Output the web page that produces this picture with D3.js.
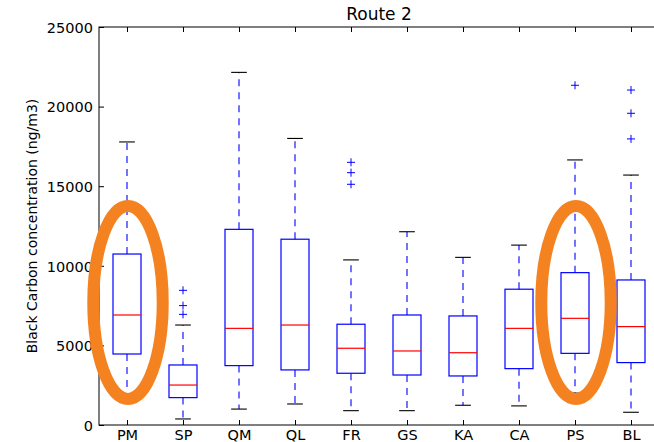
<!DOCTYPE html>
<html>
<head>
<meta charset="utf-8">
<script src="https://cdn.jsdelivr.net/npm/d3@7"></script>
<style>
  body { margin: 0; background: #fff; }
  text { font-family: "DejaVu Sans", sans-serif; fill: #000; }
</style>
</head>
<body>
<div id="chart"></div>
<script>
// box stats (ng/m3)
var categories = ["PM", "SP", "QM", "QL", "FR", "GS", "KA", "CA", "PS", "BL"];
var whiskerLow  = [1900, 380, 1000, 1320, 900, 900, 1240, 1200, 2000, 800];
var q1          = [4460, 1720, 3730, 3460, 3250, 3140, 3080, 3540, 4500, 3920];
var medians     = [6910, 2510, 6070, 6280, 4820, 4650, 4540, 6070, 6700, 6180];
var q3          = [10740, 3770, 12290, 11670, 6330, 6910, 6850, 8530, 9570, 9110];
var whiskerHigh = [17780, 6280, 22150, 18000, 10370, 12140, 10530, 11300, 16650, 15700];
var outliers    = [[], [8460, 7500, 6950], [], [], [16500, 15850, 15120], [], [], [], [21340], [21040, 19580, 17970]];
var yTicks = [0, 5000, 10000, 15000, 20000, 25000];
// orange rings drawn over the chart
var highlighted = ["PM", "PS"];
var highlightCenter = 7700;
var highlightHalfSpan = 6060;

var width = 654, height = 442;
var margin = {top: 27, right: -5, bottom: 17, left: 99};

var svg = d3.select("#chart").append("svg").attr("width", width).attr("height", height);

var x = d3.scaleLinear().domain([0.5, categories.length + 0.5]).range([margin.left, width - margin.right]);
var y = d3.scaleLinear().domain([0, 25000]).range([height - margin.bottom, margin.top]);

var boxHalf = 0.25, capHalf = 0.14;

var data = categories.map(function(c, i) {
  return {name: c, pos: i + 1, lo: whiskerLow[i], q1: q1[i], med: medians[i], q3: q3[i], hi: whiskerHigh[i], out: outliers[i]};
});

var g = svg.append("g");

var boxes = g.selectAll("g.box").data(data).enter().append("g").attr("class", "box");

// whiskers
boxes.append("line")
  .attr("x1", function(d) { return x(d.pos); }).attr("x2", function(d) { return x(d.pos); })
  .attr("y1", function(d) { return y(d.q3); }).attr("y2", function(d) { return y(d.hi); })
  .attr("stroke", "#0000ff").attr("stroke-dasharray", "7,6").attr("stroke-width", 1.1);
boxes.append("line")
  .attr("x1", function(d) { return x(d.pos); }).attr("x2", function(d) { return x(d.pos); })
  .attr("y1", function(d) { return y(d.q1); }).attr("y2", function(d) { return y(d.lo); })
  .attr("stroke", "#0000ff").attr("stroke-dasharray", "7,6").attr("stroke-width", 1.1);

// caps
["hi", "lo"].forEach(function(k) {
  boxes.append("line")
    .attr("x1", function(d) { return x(d.pos - capHalf); }).attr("x2", function(d) { return x(d.pos + capHalf); })
    .attr("y1", function(d) { return y(d[k]); }).attr("y2", function(d) { return y(d[k]); })
    .attr("stroke", "#000").attr("stroke-width", 1.1);
});

// box
boxes.append("rect")
  .attr("x", function(d) { return x(d.pos - boxHalf); })
  .attr("width", function(d) { return x(d.pos + boxHalf) - x(d.pos - boxHalf); })
  .attr("y", function(d) { return y(d.q3); })
  .attr("height", function(d) { return y(d.q1) - y(d.q3); })
  .attr("fill", "none").attr("stroke", "#0000ff").attr("stroke-width", 1.2);

// median
boxes.append("line")
  .attr("x1", function(d) { return x(d.pos - boxHalf); }).attr("x2", function(d) { return x(d.pos + boxHalf); })
  .attr("y1", function(d) { return y(d.med); }).attr("y2", function(d) { return y(d.med); })
  .attr("stroke", "#ff0000").attr("stroke-width", 1.2);

// fliers
boxes.each(function(d) {
  d3.select(this).selectAll("path.flier").data(d.out).enter().append("path")
    .attr("class", "flier")
    .attr("d", function(v) {
      var cx = x(d.pos), cy = y(v);
      return "M" + (cx - 4) + "," + cy + "H" + (cx + 4) + "M" + cx + "," + (cy - 4) + "V" + (cy + 4);
    })
    .attr("stroke", "#0000ff").attr("stroke-width", 1);
});

// axes frame
var x0 = x(0.5), x1 = x(categories.length + 0.5), y0 = y(0), y1 = y(25000);
svg.append("rect").attr("x", x0).attr("y", y1).attr("width", x1 - x0).attr("height", y0 - y1)
  .attr("fill", "none").attr("stroke", "#000").attr("stroke-width", 1);

var tickLen = 5;
var yAxis = d3.axisLeft(y).tickValues(yTicks).tickFormat(d3.format("d"))
  .tickSizeInner(-tickLen).tickSizeOuter(0).tickPadding(6);
var yG = svg.append("g").attr("transform", "translate(" + x0 + ",0)").call(yAxis);
yG.select(".domain").remove();
yG.selectAll("text").style("font-size", "14.5px").attr("dy", "0.36em");

var yRight = d3.axisRight(y).tickValues(yTicks).tickSizeInner(-tickLen).tickSizeOuter(0).tickFormat("");
var yrG = svg.append("g").attr("transform", "translate(" + x1 + ",0)").call(yRight);
yrG.select(".domain").remove();

var xAxis = d3.axisBottom(x).tickValues(d3.range(1, categories.length + 1))
  .tickFormat(function(d) { return categories[d - 1]; })
  .tickSizeInner(-tickLen).tickSizeOuter(0).tickPadding(6);
var xG = svg.append("g").attr("transform", "translate(0," + y0 + ")").call(xAxis);
xG.select(".domain").remove();
xG.selectAll("text").style("font-size", "14.5px").attr("y", 15).attr("dy", 0);

var xTop = d3.axisTop(x).tickValues(d3.range(1, categories.length + 1)).tickSizeInner(-tickLen).tickSizeOuter(0).tickFormat("");
var xtG = svg.append("g").attr("transform", "translate(0," + y1 + ")").call(xTop);
xtG.select(".domain").remove();

svg.selectAll(".tick line").attr("stroke", "#000");

// title + y label
svg.append("text").attr("x", (x0 + x1) / 2).attr("y", y1 - 7).attr("text-anchor", "middle")
  .style("font-size", "17px").text("Route 2");
svg.append("text").attr("transform", "translate(37," + ((y0 + y1) / 2) + ") rotate(-90)")
  .attr("text-anchor", "middle").style("font-size", "14px").text("Black Carbon concentration (ng/m3)");

// orange highlight rings
svg.selectAll("ellipse.ring").data(highlighted).enter().append("ellipse")
  .attr("class", "ring")
  .attr("cx", function(c) { return x(categories.indexOf(c) + 1) + 1; })
  .attr("cy", y(highlightCenter))
  .attr("rx", x(1.12) - x(0.5))
  .attr("ry", y(highlightCenter - highlightHalfSpan) - y(highlightCenter))
  .attr("fill", "none").attr("stroke", "#f58220").attr("stroke-width", 12);
</script>
</body>
</html>
